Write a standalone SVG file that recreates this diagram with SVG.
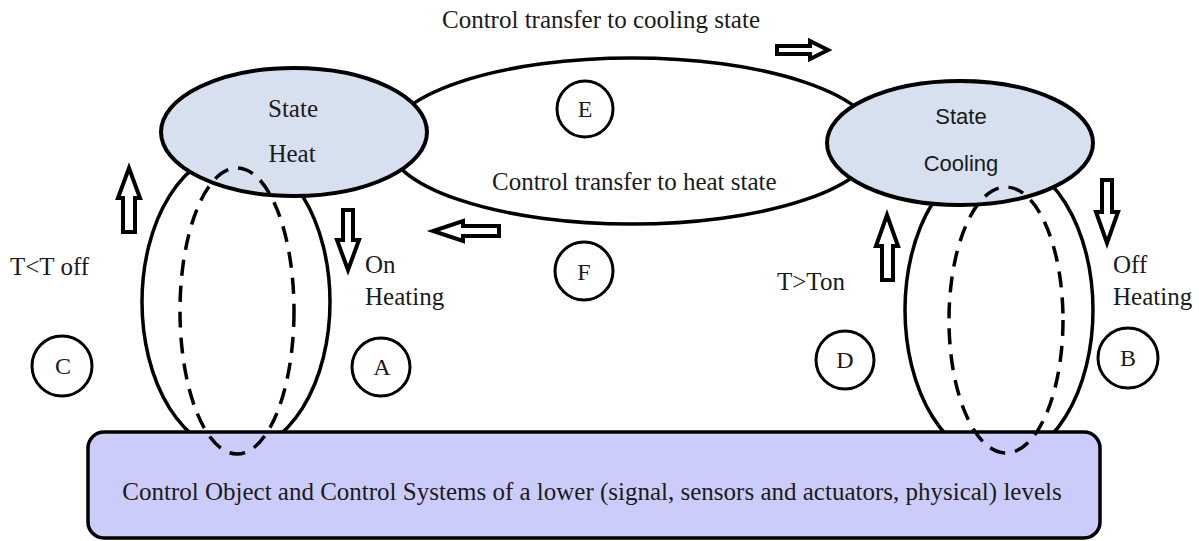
<svg xmlns="http://www.w3.org/2000/svg" width="1199" height="541" viewBox="0 0 1199 541">
<style>
.line{fill:none;stroke:#000;stroke-width:3.5}
.loopfill{fill:#fff;stroke:#000;stroke-width:3.5}
.dash{fill:none;stroke:#000;stroke-width:3.5;stroke-dasharray:16 10}
.state{fill:#d6e0ee;stroke:#000;stroke-width:4}
.obj{fill:#ccccfa;stroke:#000;stroke-width:3.5}
.arrow{fill:#fff;stroke:#000;stroke-width:4;stroke-linejoin:miter}
.mark{fill:#fff;stroke:#000;stroke-width:3}
.serif{font-family:"Liberation Serif","Times New Roman",serif;font-size:25px;fill:#1a1a1a}
.sans{font-family:"Liberation Sans",Arial,sans-serif;font-size:22px;fill:#1a1a1a}
.mid{text-anchor:middle}
.letter{font-family:"Liberation Serif","Times New Roman",serif;font-size:24px;fill:#1a1a1a;text-anchor:middle}
</style>
<rect width="1199" height="541" fill="#fff"/>
<g id="connectors">
  <ellipse id="transfer-loop" class="loopfill" cx="632" cy="141" rx="245" ry="83"/>
  <ellipse id="heat-loop" class="line" cx="236" cy="302" rx="94" ry="150"/>
  <ellipse id="cooling-loop" class="line" cx="999" cy="310" rx="94" ry="151"/>
</g>
<g id="state-heat">
  <ellipse class="state" cx="294" cy="132" rx="133" ry="64"/>
  <text class="serif mid" x="293" y="117">State</text>
  <text class="serif mid" x="292" y="162">Heat</text>
</g>
<g id="state-cooling">
  <ellipse class="state" cx="960" cy="143" rx="133" ry="62"/>
  <text class="sans mid" x="961" y="124">State</text>
  <text class="sans mid" x="961" y="171">Cooling</text>
</g>
<g id="control-object">
  <rect class="obj" x="88" y="432" width="1012" height="106" rx="16" ry="16"/>
  <text class="serif mid" x="592" y="500">Control Object and Control Systems of a lower (signal, sensors and actuators, physical) levels</text>
</g>
<g id="connectors-front">
  <ellipse id="heat-dashed" class="dash" cx="237" cy="311" rx="57" ry="143"/>
  <ellipse id="cooling-dashed" class="dash" cx="1006" cy="320" rx="57" ry="133"/>
  <path id="arrow-to-cooling" class="arrow" d="M777,46 H810 V41 L828,50 L810,59 V54 H777 Z"/>
  <path id="arrow-to-heat" class="arrow" d="M499,226 H463 V221 L433,231 L463,241 V236 H499 Z"/>
  <path id="arrow-on-heating" class="arrow" d="M343,210 H353 V240 H359 L348,270 L337,240 H343 Z"/>
  <path id="arrow-toff" class="arrow" d="M123,232 H135 V198 H140 L129,168 L118,198 H123 Z"/>
  <path id="arrow-ton" class="arrow" d="M882,280 H893 V246 H898 L887,215 L876,246 H882 Z"/>
  <path id="arrow-off-heating" class="arrow" d="M1102,180 H1112 V212 H1118 L1107,243 L1096,212 H1102 Z"/>
</g>
<g id="labels">
  <text class="serif" x="442" y="28">Control transfer to cooling state</text>
  <text class="serif" x="492" y="190">Control transfer to heat state</text>
  <text class="serif" x="10" y="275">T&lt;T off</text>
  <text class="serif" x="365" y="273">On</text>
  <text class="serif" x="365" y="305">Heating</text>
  <text class="serif" x="777" y="290">T&gt;Ton</text>
  <text class="serif" x="1113" y="273">Off</text>
  <text class="serif" x="1113" y="305">Heating</text>
</g>
<g id="marker-E"><circle class="mark" cx="585" cy="109" r="28"/><text class="letter" x="585" y="117">E</text></g>
<g id="marker-F"><circle class="mark" cx="584" cy="271" r="29"/><text class="letter" x="584" y="280">F</text></g>
<g id="marker-C"><circle class="mark" cx="62" cy="366" r="30"/><text class="letter" x="63" y="374">C</text></g>
<g id="marker-A"><circle class="mark" cx="381" cy="367" r="29"/><text class="letter" x="382" y="375">A</text></g>
<g id="marker-D"><circle class="mark" cx="845" cy="360" r="29"/><text class="letter" x="845" y="368">D</text></g>
<g id="marker-B"><circle class="mark" cx="1128" cy="358" r="30"/><text class="letter" x="1128" y="366">B</text></g>
</svg>
